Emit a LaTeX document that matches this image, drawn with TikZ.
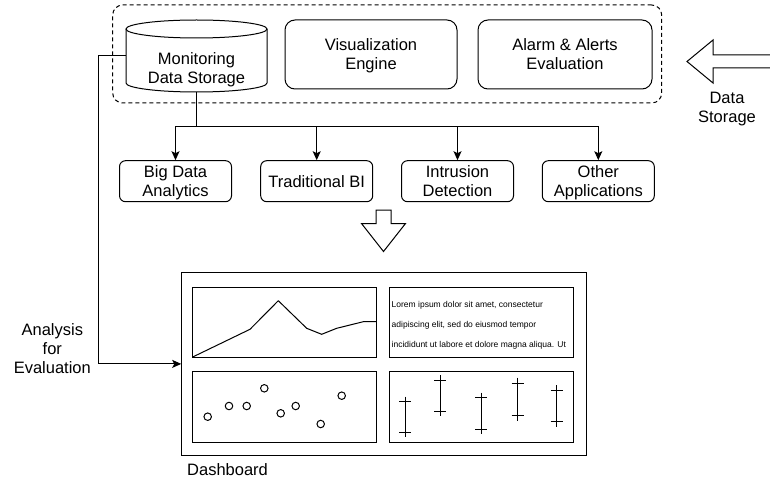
\documentclass[tikz,border=0pt]{standalone}
\usepackage{fontspec}
\setmainfont{Liberation Sans}
\usetikzlibrary{arrows.meta}
\tikzset{
  lbl/.style={font=\fontsize{16.5}{19}\selectfont, align=center, inner sep=0pt, text depth=0pt},
  rbox/.style={draw, line width=1pt, rounded corners=10pt, lbl},
  appbox/.style={draw, line width=1pt, rounded corners=6pt, lbl, minimum width=112pt, minimum height=41pt},
  panel/.style={draw, line width=1pt, inner sep=0pt},
  conn/.style={line width=1pt},
  arr/.style={conn, -{Stealth[length=9pt, width=8pt, inset=2pt]}},
  bigarrow/.style={draw, line width=1pt, fill=white, line join=miter},
  lorem/.style={font=\fontsize{8.5}{10}\selectfont, anchor=west, inner sep=0pt},
  dot/.style={draw, line width=1pt, circle, minimum size=7.5pt, inner sep=0pt},
}
\begin{document}
\begin{tikzpicture}[x=1pt, y=-1pt]
\useasboundingbox (0,0) rectangle (770,484);

% storage tier, grouped in a dashed frame
\node[draw, dash pattern=on 4pt off 3pt, line width=1pt, rounded corners=10pt,
      minimum width=549pt, minimum height=98pt] (grp) at (387.2,54) {};

% monitoring data storage cylinder (outline drawn around the node)
\node[minimum width=141pt, minimum height=72pt, inner sep=0pt] (mds) at (196.5,56) {};
\draw[line width=1pt] (126,29) -- (126,83) arc[start angle=180, end angle=360, x radius=70.5pt, y radius=9pt] -- (267,29);
\draw[line width=1pt] (196.5,29) ellipse [x radius=70.5pt, y radius=9pt];
\node[lbl] (mdstext) at (196.5,68.5) {Monitoring\\Data Storage};

\node[rbox, minimum width=172pt, minimum height=69pt] (vis) at (371,54.5) {Visualization\\Engine};
\node[rbox, minimum width=174pt, minimum height=69pt] (alarm) at (565,54.5) {Alarm \& Alerts\\Evaluation};

% incoming data arrow
\draw[bigarrow] (773,55) -- (713,55) -- (713,40) -- (687,61.5) -- (713,83) -- (713,68) -- (773,68);
\node[lbl] (dslbl) at (727,107) {Data\\Storage};

% consumer applications
\node[appbox] (bda) at (175.5,181.2) {Big Data\\Analytics};
\node[appbox] (tbi) at (316.7,181.2) {Traditional BI};
\node[appbox] (ids) at (457.5,181.2) {Intrusion\\Detection};
\node[appbox] (oth) at (598.3,181.2) {Other\\Applications};

\coordinate (bus) at (196.5,126);
\draw[conn] (mds.south) -- (bus);
\draw[arr] (bus) -| (bda.north);
\draw[arr] (bus) -| (tbi.north);
\draw[arr] (bus) -| (ids.north);
\draw[arr] (bus) -| (oth.north);

% downward arrow towards the dashboard
\draw[bigarrow] (376,210) -- (391,210) -- (391,223.5) -- (405.5,223.5) -- (383.5,251.5) -- (361.5,223.5) -- (376,223.5) -- cycle;

% dashboard
\node[draw, line width=1pt, minimum width=405pt, minimum height=182.3pt] (dash) at (384.2,363.9) {};
\node[lbl, anchor=west] (dashlbl) at (187,470) {Dashboard};

\node[panel, minimum width=184pt, minimum height=70pt] (pline) at (284,322) {};
\node[panel, minimum width=184pt, minimum height=70pt] (ptext) at (481,322) {};
\node[panel, minimum width=184pt, minimum height=71pt] (pscat) at (284,406.5) {};
\node[panel, minimum width=184pt, minimum height=71pt] (perr) at (481,406.5) {};

% line chart
\draw[line width=1pt, line join=round] (192.7,357) -- (250,329.3) -- (278.3,300.7) -- (306.7,328.3) -- (321.7,334.3) -- (336.7,328.3) -- (363.3,321.7) -- (376,321.7);

% text panel
\node[lorem] (lorem1) at (391.5,305.7) {Lorem ipsum dolor sit amet, consectetur};
\node[lorem] (lorem2) at (391.5,325.7) {adipiscing elit, sed do eiusmod tempor};
\node[lorem] (lorem3) at (391.5,345.2) {incididunt ut labore et dolore magna aliqua. Ut};

% scatter plot
\foreach \px/\py [count=\i] in {207.7/416.7, 229/406, 246.7/406, 264.3/388.3, 280.7/413.3, 295.7/406, 320.7/424, 341.7/395.7}
  \node[dot] (sc\i) at (\px,\py) {};

% error bars
\foreach \bx/\btop/\bbot/\ta/\tb in {405/396.7/436.7/401/432.3, 440/375/416/380/411, 481/392.7/434/397.3/429, 517.7/377.7/420.7/383.3/415, 556.7/385/427.3/390.7/421.7}{
  \draw[line width=1pt] (\bx,\btop) -- (\bx,\bbot);
  \draw[line width=1pt] (\bx-6,\ta) -- (\bx+6,\ta);
  \draw[line width=1pt] (\bx-6,\tb) -- (\bx+6,\tb);
}

% analysis feedback path
\coordinate (lft) at (98,56);
\node[lbl] (anlbl) at (52.3,349) {Analysis\\for\\Evaluation};
\draw[arr] (mds.west) -- (lft) |- (dash.west);
\end{tikzpicture}
\end{document}
